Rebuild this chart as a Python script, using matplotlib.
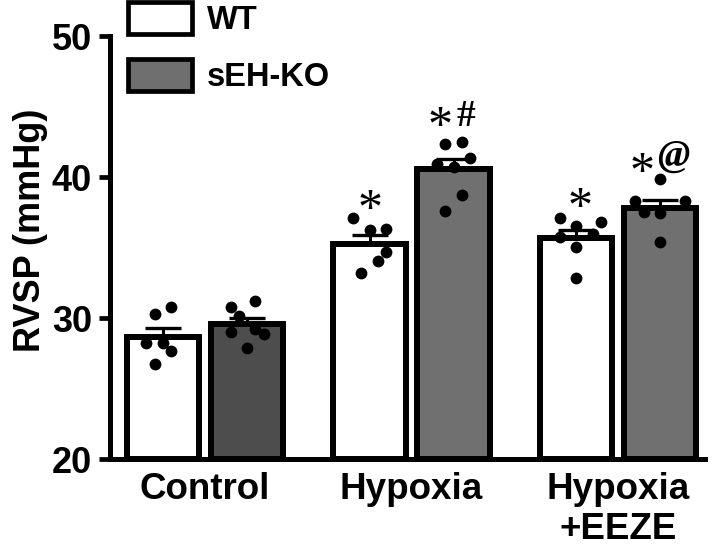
import numpy as np
import matplotlib
matplotlib.use("Agg")
import matplotlib.pyplot as plt
from matplotlib.patches import Patch

plt.rcParams['font.family'] = ['Liberation Sans', 'DejaVu Sans']
plt.rcParams['font.weight'] = 'bold'

groups = ["Control", "Hypoxia", "Hypoxia\n+EEZE"]
series = ["WT", "sEH-KO"]

# individual RVSP values (mmHg)
wt_control = [30.28, 30.76, 28.25, 28.25, 27.68, 26.74]
ko_control = [30.80, 31.18, 30.14, 29.03, 29.22, 28.87, 27.85]
wt_hypoxia = [37.07, 36.24, 36.31, 34.66, 34.04, 33.17]
ko_hypoxia = [42.32, 42.46, 41.33, 40.90, 40.73, 38.72, 37.59]
wt_eeze = [37.07, 36.52, 36.85, 35.72, 35.96, 35.01, 32.82]
ko_eeze = [39.84, 38.32, 38.32, 37.54, 37.47, 35.41]

wt_sets = [wt_control, wt_hypoxia, wt_eeze]
ko_sets = [ko_control, ko_hypoxia, ko_eeze]

# significance marks
marks = ["*", "*", "#", "*", "*", "@"]

# --- layout only ---
# horizontal slots of each dot (column scatter), one unit = dot step
wt_slots = [[-1, 1, -2, 0, 1, -1],
            [-2, 0, 2, 2, 1, -1],
            [-2, 0, 3, -2, 2, 0, 0]]
ko_slots = [[-2, 1, -1, -2, 1, 2, 0],
            [-1, 1, 2, -2, 0, 1, -1],
            [0, -3, 3, -2, 0, 0]]
slot_w = 0.040
# ink centres of the marks
mark_xy = [(0.801, 38.44), (1.136, 44.29), (1.261, 44.33),
           (1.816, 38.55), (2.116, 41.06), (2.266, 41.42)]
# font size, weight, style, vertical nudge (fraction of font size)
mark_style = {"*": (36, "normal", "normal", -0.23),
              "#": (27, "bold", "normal", -0.02),
              "@": (28, "bold", "italic", 0.0)}

wt_col = "white"
ko_cols = ["#4d4d4d", "#707070", "#707070"]
off = 0.2034
w = 0.35
fs = 26

fig = plt.figure(figsize=(7.2, 5.48), dpi=100)
ax = fig.add_axes([0.1528, 0.1624, 0.979 - 0.1528, 0.934 - 0.1624])

x = np.arange(len(groups))
for sets, slots, sign, cols in [(wt_sets, wt_slots, -1, [wt_col] * 3),
                                (ko_sets, ko_slots, 1, ko_cols)]:
    means = [np.mean(s) for s in sets]
    sems = [np.std(s, ddof=1) / np.sqrt(len(s)) for s in sets]
    xs = x + sign * off
    ax.bar(xs, np.array(means) - 20, bottom=20, width=w, color=cols,
           edgecolor="black", linewidth=4.3, zorder=2)
    ax.errorbar(xs, means, yerr=[np.zeros(3), sems], fmt="none",
                ecolor="black", elinewidth=2.2, capsize=13, capthick=2.4,
                zorder=3)
    for xi, s, sl in zip(xs, sets, slots):
        ax.plot(xi + np.array(sl) * slot_w, s, "o", color="black",
                markersize=8.5, markeredgewidth=0, zorder=4)

for m, (mx, my) in zip(marks, mark_xy):
    size, wt, st, nudge = mark_style[m]
    ax.annotate(m, (mx, my), xytext=(0, nudge * size), textcoords="offset points",
                ha="center", va="center", fontsize=size,
                family="Liberation Serif", weight=wt, style=st)

ax.set_ylim(20, 50)
ax.set_xlim(-0.46, 2.42)
ax.set_yticks([20, 30, 40, 50])
ax.set_xticks(x)
ax.set_xticklabels(groups, fontsize=fs + 0.5, fontweight="bold", linespacing=1.2)
ax.tick_params(axis="x", length=0, pad=9)
ax.tick_params(axis="y", length=8, width=3.4, labelsize=fs, pad=5)
for lab in ax.get_yticklabels():
    lab.set_fontweight("bold")
ax.spines["top"].set_visible(False)
ax.spines["right"].set_visible(False)
ax.spines["left"].set_linewidth(3.6)
ax.spines["bottom"].set_linewidth(3.6)
ax.spines["left"].set_bounds(20, 50)
ax.set_ylabel("RVSP (mmHg)", fontsize=fs, fontweight="bold")
ax.yaxis.set_label_coords(-0.104, 0.541)

handles = [Patch(facecolor="white", edgecolor="black", linewidth=3.4),
           Patch(facecolor="#6f6f6f", edgecolor="black", linewidth=3.4)]
fig.legend(handles, series, loc="upper left",
           bbox_to_anchor=(128 / 720, 1 - 2 / 548), frameon=False,
           borderpad=0, borderaxespad=0, handlelength=1.96, handleheight=1.15,
           handletextpad=0.46, labelspacing=0.7,
           prop={"size": 23.5, "weight": "bold"})

fig.savefig("out.png", dpi=100)
